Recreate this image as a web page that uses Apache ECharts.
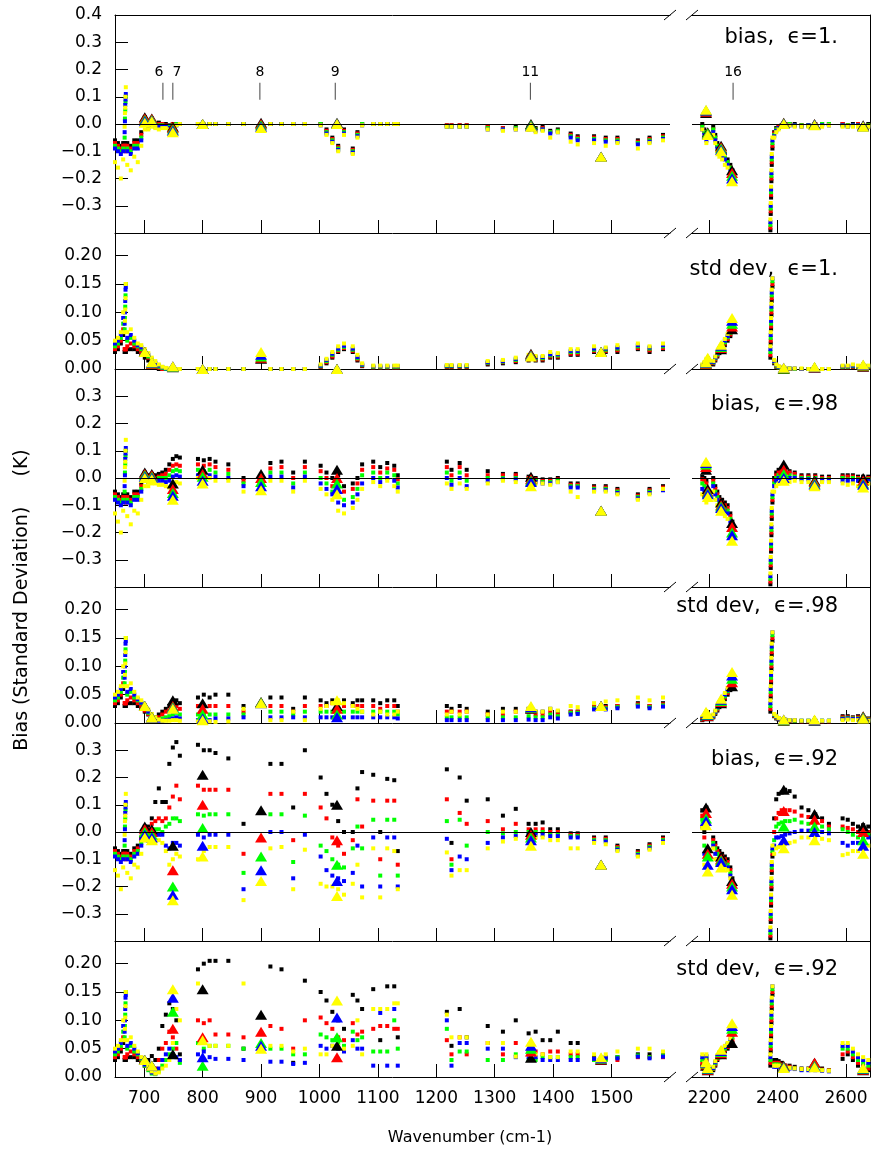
<!DOCTYPE html>
<html>
<head>
<meta charset="utf-8">
<script src="https://cdn.jsdelivr.net/npm/echarts@6/dist/echarts.min.js"></script>
<style>
  html, body { margin: 0; padding: 0; background: #fff; }
  #chart { width: 875px; height: 1154px; }
</style>
</head>
<body>
<div id="chart"></div>
<script>
// wavenumbers (cm-1) of the plotted channels: CO2 band / window + O3 / 4um band
const wavenumber = [
  650, 655, 660, 664, 666.5, 667, 667.5, 668, 668.5, 671, 677, 683, 689, 695, 701, 707, 713, 719, 725, 731, 737, 743, 749, 755, 761,
  792, 802, 812, 822, 844, 870, 916, 935, 955, 975, 1002, 1012, 1022, 1032, 1042, 1057, 1065, 1073, 1092, 1104, 1116, 1128, 1134, 1218, 1226, 1240, 1252, 1288, 1314, 1336, 1358, 1370, 1382, 1395, 1408, 1430, 1442, 1470, 1490, 1510, 1545, 1565, 1588,
  2180, 2186, 2192, 2212, 2218, 2224, 2230, 2238, 2246, 2254, 2262, 2268, 2379, 2380, 2381, 2382, 2383, 2385, 2390, 2396, 2403, 2412, 2422, 2435, 2450, 2470, 2490, 2510, 2530, 2550, 2590, 2605, 2620, 2635, 2650, 2665
];

// ---- bias, eps = 1.
const bias100Black = [
  -0.06, -0.07, -0.08, -0.07, -0.07, -0.07, -0.08, -0.08, -0.09, -0.07, -0.08, -0.06, -0.06, -0.03, 0.025, 0.01, 0.02, 0, 0.005, 0, 0, -0.005, 0, 0, 0,
  0, 0, 0, 0, 0, 0, 0, 0, 0, 0, 0, -0.02, -0.05, -0.08, -0.02, -0.09, -0.03, 0, 0, 0, 0, 0, 0, -0.005, -0.005, -0.005, -0.005, -0.01, -0.015, -0.01, -0.01, -0.015, -0.01, -0.025, -0.02, -0.035, -0.045, -0.045, -0.05, -0.05, -0.06, -0.05, -0.04,
  0, -0.02, -0.03, -0.01, -0.04, -0.07, -0.09, -0.1, -0.11, -0.13, -0.15, -0.17, -0.39, -0.33, -0.27, -0.21, -0.15, -0.09, -0.03, -0.015, -0.01, -0.005, 0, 0, 0, -0.005, -0.005, 0, 0, 0, 0, -0.005, 0, 0, -0.005, 0
];
const bias100Red = [
  -0.07, -0.08, -0.09, -0.08, -0.08, -0.08, -0.09, -0.09, -0.1, -0.08, -0.09, -0.07, -0.07, -0.04, 0.015, 0, 0.015, 0, 0, 0, -0.005, -0.01, 0, 0, 0,
  0, 0, 0, 0, 0, 0, 0, 0, 0, 0, 0, -0.025, -0.055, -0.085, -0.025, -0.095, -0.035, 0, 0, 0, 0, 0, 0, -0.005, -0.005, -0.005, -0.005, -0.01, -0.015, -0.015, -0.015, -0.02, -0.015, -0.03, -0.025, -0.04, -0.05, -0.05, -0.055, -0.055, -0.065, -0.055, -0.045,
  -0.01, -0.03, -0.04, -0.02, -0.05, -0.08, -0.1, -0.11, -0.12, -0.14, -0.16, -0.18, -0.38, -0.32, -0.26, -0.2, -0.14, -0.08, -0.035, -0.02, -0.01, -0.005, 0, 0, -0.005, -0.005, -0.005, 0, 0, 0, 0, -0.005, -0.005, 0, -0.005, -0.005
];
const bias100Green = [
  -0.08, -0.09, -0.1, -0.09, -0.05, 0.02, 0.05, 0.08, 0.1, -0.09, -0.1, -0.08, -0.08, -0.05, 0.005, -0.01, 0.01, -0.005, -0.005, -0.005, -0.01, -0.01, -0.005, 0, 0,
  0, 0, 0, 0, 0, 0, 0, 0, 0, 0, 0, -0.03, -0.06, -0.09, -0.03, -0.1, -0.04, 0, 0, 0, 0, 0, 0, -0.01, -0.01, -0.01, -0.01, -0.015, -0.02, -0.015, -0.015, -0.02, -0.02, -0.03, -0.025, -0.045, -0.055, -0.055, -0.06, -0.06, -0.07, -0.06, -0.05,
  -0.01, -0.03, -0.05, -0.02, -0.05, -0.08, -0.1, -0.11, -0.12, -0.14, -0.16, -0.19, -0.37, -0.31, -0.25, -0.19, -0.13, -0.07, -0.04, -0.02, -0.015, -0.01, -0.005, 0, -0.005, -0.005, -0.005, -0.005, 0, 0, -0.005, -0.005, -0.005, -0.005, -0.01, -0.005
];
const bias100Blue = [
  -0.09, -0.1, -0.11, -0.1, -0.03, 0.01, 0.07, 0.09, 0.11, -0.1, -0.11, -0.09, -0.09, -0.06, 0, -0.015, 0, -0.01, -0.01, -0.01, -0.01, -0.015, -0.01, -0.005, 0,
  0, 0, 0, 0, 0, 0, 0, 0, 0, 0, -0.005, -0.035, -0.065, -0.095, -0.035, -0.105, -0.045, -0.005, 0, 0, 0, 0, 0, -0.01, -0.01, -0.01, -0.01, -0.02, -0.02, -0.02, -0.02, -0.025, -0.02, -0.035, -0.03, -0.05, -0.06, -0.06, -0.065, -0.065, -0.075, -0.065, -0.055,
  -0.02, -0.04, -0.06, -0.03, -0.06, -0.09, -0.11, -0.12, -0.13, -0.15, -0.17, -0.2, -0.36, -0.3, -0.24, -0.18, -0.12, -0.06, -0.045, -0.025, -0.015, -0.01, -0.005, -0.005, -0.005, -0.01, -0.005, -0.005, -0.005, -0.005, -0.005, -0.01, -0.005, -0.005, -0.01, -0.01
];
const bias100Yellow = [
  -0.14, -0.16, -0.2, -0.13, -0.01, 0.04, 0.06, 0.1, 0.135, -0.15, -0.17, -0.12, -0.14, -0.08, -0.02, -0.02, -0.01, -0.015, -0.02, -0.015, -0.015, -0.02, -0.01, -0.005, 0,
  0, 0, 0, 0, 0, 0, 0, 0, 0, 0, -0.005, -0.04, -0.07, -0.1, -0.04, -0.11, -0.05, -0.005, 0, 0, 0, 0, 0, -0.01, -0.01, -0.01, -0.01, -0.02, -0.025, -0.02, -0.02, -0.03, -0.025, -0.05, -0.03, -0.065, -0.075, -0.07, -0.08, -0.07, -0.09, -0.07, -0.06,
  -0.02, -0.05, -0.07, -0.04, -0.07, -0.1, -0.12, -0.13, -0.15, -0.16, -0.18, -0.21, -0.35, -0.29, -0.23, -0.17, -0.11, -0.05, -0.05, -0.03, -0.02, -0.01, -0.005, -0.005, -0.01, -0.01, -0.01, -0.005, -0.01, -0.005, -0.01, -0.01, -0.01, -0.01, -0.015, -0.01
];

// ---- std dev, eps = 1.
const std100Black = [
  0.03, 0.035, 0.045, 0.06, 0.03, 0.03, 0.03, 0.03, 0.03, 0.035, 0.035, 0.035, 0.03, 0.025, 0.02, 0.015, 0.01, 0.005, 0, 0, 0, 0, 0, 0, 0,
  0, 0, 0, 0, 0, 0, 0, 0, 0, 0, 0.003, 0.01, 0.02, 0.03, 0.035, 0.03, 0.015, 0.005, 0.002, 0.002, 0.002, 0.002, 0.002, 0.003, 0.003, 0.003, 0.003, 0.008, 0.01, 0.012, 0.015, 0.015, 0.015, 0.02, 0.02, 0.025, 0.025, 0.03, 0.03, 0.03, 0.035, 0.03, 0.035,
  0.003, 0.006, 0.01, 0.008, 0.015, 0.022, 0.028, 0.034, 0.042, 0.05, 0.058, 0.066, 0.02, 0.045, 0.07, 0.095, 0.12, 0.145, 0.01, 0.004, 0.002, 0.001, 0, 0, 0, 0, 0, 0, 0, 0, 0.002, 0.002, 0.003, 0.002, 0.003, 0.002
];
const std100Red = [
  0.035, 0.04, 0.05, 0.07, 0.035, 0.035, 0.035, 0.035, 0.035, 0.04, 0.045, 0.04, 0.035, 0.03, 0.025, 0.02, 0.012, 0.007, 0.002, 0, 0, 0, 0, 0, 0,
  0, 0, 0, 0, 0, 0, 0, 0, 0, 0, 0.004, 0.012, 0.022, 0.032, 0.037, 0.032, 0.017, 0.006, 0.003, 0.003, 0.003, 0.003, 0.003, 0.004, 0.004, 0.004, 0.004, 0.01, 0.012, 0.014, 0.017, 0.017, 0.017, 0.022, 0.022, 0.027, 0.027, 0.032, 0.032, 0.033, 0.037, 0.033, 0.037,
  0.004, 0.008, 0.012, 0.01, 0.017, 0.024, 0.03, 0.036, 0.045, 0.053, 0.061, 0.07, 0.025, 0.05, 0.075, 0.1, 0.125, 0.15, 0.012, 0.005, 0.003, 0.002, 0.001, 0, 0, 0, 0, 0, 0, 0, 0.003, 0.003, 0.004, 0.003, 0.004, 0.003
];
const std100Green = [
  0.04, 0.045, 0.055, 0.08, 0.07, 0.09, 0.11, 0.13, 0.15, 0.05, 0.055, 0.045, 0.04, 0.035, 0.028, 0.022, 0.015, 0.009, 0.004, 0.002, 0, 0, 0, 0, 0,
  0, 0, 0, 0, 0, 0, 0, 0, 0, 0, 0.005, 0.014, 0.025, 0.034, 0.039, 0.034, 0.019, 0.007, 0.004, 0.004, 0.004, 0.004, 0.004, 0.005, 0.005, 0.005, 0.005, 0.011, 0.013, 0.016, 0.019, 0.019, 0.019, 0.024, 0.024, 0.03, 0.03, 0.034, 0.034, 0.036, 0.04, 0.036, 0.04,
  0.005, 0.009, 0.014, 0.011, 0.019, 0.026, 0.032, 0.039, 0.047, 0.056, 0.064, 0.074, 0.03, 0.055, 0.08, 0.105, 0.13, 0.155, 0.013, 0.006, 0.003, 0.002, 0.001, 0.001, 0, 0, 0, 0, 0, 0, 0.004, 0.004, 0.005, 0.004, 0.005, 0.004
];
const std100Blue = [
  0.045, 0.05, 0.06, 0.09, 0.08, 0.1, 0.12, 0.14, 0.145, 0.055, 0.06, 0.05, 0.042, 0.038, 0.03, 0.025, 0.017, 0.011, 0.006, 0.003, 0.001, 0, 0, 0, 0,
  0, 0, 0, 0, 0, 0, 0, 0, 0, 0, 0.006, 0.016, 0.027, 0.036, 0.041, 0.036, 0.021, 0.008, 0.005, 0.005, 0.005, 0.005, 0.005, 0.006, 0.006, 0.006, 0.006, 0.012, 0.014, 0.018, 0.021, 0.021, 0.021, 0.026, 0.026, 0.032, 0.032, 0.036, 0.036, 0.038, 0.042, 0.038, 0.042,
  0.006, 0.01, 0.015, 0.012, 0.02, 0.028, 0.034, 0.041, 0.05, 0.058, 0.067, 0.078, 0.035, 0.06, 0.085, 0.11, 0.135, 0.16, 0.014, 0.007, 0.004, 0.002, 0.001, 0.001, 0.001, 0, 0, 0, 0, 0, 0.005, 0.005, 0.006, 0.005, 0.006, 0.005
];
const std100Yellow = [
  0.05, 0.055, 0.065, 0.1, 0.065, 0.085, 0.105, 0.125, 0.15, 0.065, 0.07, 0.055, 0.045, 0.042, 0.035, 0.028, 0.02, 0.014, 0.008, 0.004, 0.002, 0.001, 0, 0, 0,
  0, 0, 0, 0, 0, 0, 0, 0, 0, 0, 0.008, 0.018, 0.03, 0.04, 0.045, 0.04, 0.025, 0.01, 0.006, 0.006, 0.006, 0.006, 0.006, 0.007, 0.007, 0.007, 0.007, 0.014, 0.016, 0.02, 0.025, 0.023, 0.023, 0.03, 0.028, 0.035, 0.035, 0.04, 0.038, 0.042, 0.045, 0.04, 0.045,
  0.008, 0.012, 0.018, 0.014, 0.022, 0.03, 0.037, 0.044, 0.053, 0.062, 0.071, 0.082, 0.04, 0.065, 0.09, 0.115, 0.14, 0.16, 0.016, 0.008, 0.005, 0.003, 0.002, 0.001, 0.001, 0.001, 0, 0, 0, 0, 0.006, 0.006, 0.008, 0.006, 0.008, 0.006
];

// ---- bias, eps = .98
const bias98Black = [
  -0.05, -0.06, -0.07, -0.06, -0.06, -0.06, -0.07, -0.07, -0.08, -0.06, -0.07, -0.05, -0.05, -0.02, 0.02, 0.01, 0.015, 0.01, 0.015, 0.02, 0.03, 0.05, 0.07, 0.08, 0.075,
  0.07, 0.065, 0.07, 0.06, 0.05, 0, 0.055, 0.06, 0.02, 0.06, 0.045, 0.02, 0, 0.01, -0.03, -0.02, 0, 0.05, 0.06, 0.04, 0.055, 0.045, 0.01, 0.06, 0.03, 0.055, 0.03, 0.025, 0.015, 0.015, 0.005, 0, -0.005, -0.005, 0, -0.02, -0.02, -0.03, -0.03, -0.04, -0.06, -0.04, -0.03,
  0.005, 0, -0.01, 0, -0.03, -0.05, -0.07, -0.08, -0.09, -0.1, -0.13, -0.16, -0.39, -0.33, -0.27, -0.21, -0.15, -0.09, 0, 0.02, 0.03, 0.035, 0.035, 0.025, 0.02, 0.01, 0.01, 0.01, 0.005, 0.005, 0.01, 0.01, 0.01, 0.005, 0.005, 0.005
];
const bias98Red = [
  -0.06, -0.07, -0.08, -0.07, -0.07, -0.07, -0.08, -0.08, -0.09, -0.07, -0.08, -0.06, -0.06, -0.03, 0.01, 0, 0.01, 0, 0.005, 0.01, 0.015, 0.03, 0.045, 0.05, 0.045,
  0.05, 0.045, 0.05, 0.04, 0.03, -0.01, 0.035, 0.04, 0, 0.04, 0.025, 0, -0.03, -0.04, -0.05, -0.04, -0.02, 0.03, 0.04, 0.02, 0.035, 0.03, -0.005, 0.04, 0.01, 0.04, 0.01, 0.01, 0.01, 0.01, 0, -0.005, -0.01, -0.01, -0.005, -0.025, -0.025, -0.035, -0.035, -0.045, -0.065, -0.045, -0.035,
  -0.005, -0.01, -0.02, -0.01, -0.04, -0.06, -0.08, -0.09, -0.1, -0.11, -0.14, -0.17, -0.38, -0.32, -0.26, -0.2, -0.14, -0.08, -0.01, 0.01, 0.02, 0.025, 0.025, 0.02, 0.015, 0.005, 0.005, 0.005, 0, 0, 0.005, 0.005, 0.005, 0, 0, 0
];
const bias98Green = [
  -0.07, -0.08, -0.09, -0.08, -0.05, 0.02, 0.05, 0.08, 0.1, -0.08, -0.09, -0.07, -0.07, -0.04, 0, -0.01, 0, -0.005, 0, 0, 0, 0.01, 0.025, 0.03, 0.025,
  0.03, 0.025, 0.03, 0.02, 0.015, -0.02, 0.02, 0.02, -0.02, 0.02, 0, -0.02, -0.05, -0.07, -0.08, -0.07, -0.04, 0.01, 0.02, 0, 0.02, 0.01, -0.02, 0.02, -0.01, 0.02, -0.01, 0, 0, 0, -0.005, -0.01, -0.015, -0.015, -0.01, -0.03, -0.03, -0.04, -0.04, -0.05, -0.07, -0.05, -0.04,
  -0.02, -0.03, -0.04, -0.02, -0.05, -0.07, -0.09, -0.1, -0.11, -0.12, -0.15, -0.18, -0.37, -0.31, -0.25, -0.19, -0.13, -0.07, -0.02, 0, 0.01, 0.015, 0.015, 0.01, 0.005, 0, 0, 0, -0.005, -0.005, 0, -0.005, 0, -0.005, -0.005, -0.005
];
const bias98Blue = [
  -0.08, -0.09, -0.1, -0.09, -0.03, 0.01, 0.07, 0.09, 0.11, -0.09, -0.1, -0.08, -0.08, -0.05, -0.01, -0.015, -0.01, -0.01, -0.01, -0.01, -0.015, -0.01, 0.005, 0.01, 0.005,
  0.01, 0.005, 0.01, 0.005, 0, -0.03, 0.005, 0.005, -0.035, 0.005, -0.02, -0.04, -0.06, -0.09, -0.1, -0.09, -0.06, -0.02, 0, -0.015, 0, -0.01, -0.035, 0, -0.025, 0, -0.03, -0.01, -0.005, -0.005, -0.01, -0.015, -0.02, -0.02, -0.015, -0.035, -0.035, -0.045, -0.045, -0.055, -0.075, -0.055, -0.045,
  -0.04, -0.05, -0.06, -0.03, -0.06, -0.08, -0.1, -0.11, -0.12, -0.13, -0.16, -0.19, -0.36, -0.3, -0.24, -0.18, -0.12, -0.06, -0.03, -0.01, 0, 0.005, 0.005, 0, 0, -0.005, -0.005, -0.005, -0.01, -0.01, -0.01, -0.01, -0.01, -0.01, -0.015, -0.01
];
const bias98Yellow = [
  -0.13, -0.16, -0.2, -0.12, -0.01, 0.04, 0.06, 0.1, 0.14, -0.14, -0.17, -0.12, -0.13, -0.08, -0.03, -0.03, -0.02, -0.02, -0.025, -0.025, -0.03, -0.035, -0.025, -0.015, -0.02,
  0, -0.01, 0, -0.01, -0.01, -0.05, -0.01, -0.01, -0.05, -0.01, -0.04, -0.06, -0.08, -0.12, -0.13, -0.11, -0.08, -0.04, -0.015, -0.03, -0.01, -0.03, -0.05, -0.02, -0.04, -0.02, -0.04, -0.02, -0.01, -0.015, -0.02, -0.02, -0.02, -0.025, -0.015, -0.05, -0.07, -0.05, -0.05, -0.06, -0.08, -0.06, -0.04,
  -0.06, -0.07, -0.09, -0.05, -0.08, -0.1, -0.12, -0.13, -0.14, -0.15, -0.18, -0.22, -0.35, -0.29, -0.23, -0.17, -0.11, -0.05, -0.05, -0.03, -0.02, -0.015, -0.015, -0.015, -0.01, -0.015, -0.015, -0.02, -0.015, -0.015, -0.02, -0.025, -0.02, -0.03, -0.03, -0.02
];

// ---- std dev, eps = .98
const std98Black = [
  0.03, 0.035, 0.045, 0.06, 0.03, 0.03, 0.03, 0.03, 0.03, 0.035, 0.035, 0.035, 0.03, 0.025, 0.02, 0.015, 0.01, 0.01, 0.015, 0.02, 0.025, 0.03, 0.035, 0.04, 0.035,
  0.045, 0.05, 0.045, 0.05, 0.05, 0.03, 0.045, 0.045, 0.025, 0.045, 0.04, 0.035, 0.04, 0.035, 0.04, 0.035, 0.04, 0.04, 0.04, 0.035, 0.04, 0.04, 0.03, 0.03, 0.025, 0.03, 0.025, 0.02, 0.025, 0.025, 0.025, 0.02, 0.02, 0.025, 0.02, 0.02, 0.02, 0.03, 0.03, 0.03, 0.035, 0.03, 0.035,
  0.005, 0.008, 0.012, 0.01, 0.016, 0.022, 0.028, 0.034, 0.042, 0.05, 0.058, 0.065, 0.02, 0.045, 0.07, 0.095, 0.12, 0.145, 0.012, 0.008, 0.006, 0.005, 0.004, 0.004, 0.003, 0.003, 0.003, 0.003, 0.003, 0.003, 0.012, 0.012, 0.01, 0.012, 0.01, 0.008
];
const std98Red = [
  0.035, 0.04, 0.05, 0.07, 0.035, 0.035, 0.035, 0.035, 0.035, 0.04, 0.045, 0.04, 0.035, 0.03, 0.022, 0.016, 0.01, 0.008, 0.01, 0.015, 0.02, 0.022, 0.025, 0.03, 0.025,
  0.03, 0.03, 0.03, 0.03, 0.03, 0.02, 0.03, 0.03, 0.02, 0.03, 0.03, 0.03, 0.035, 0.025, 0.03, 0.03, 0.03, 0.03, 0.03, 0.025, 0.03, 0.03, 0.02, 0.02, 0.02, 0.02, 0.02, 0.015, 0.015, 0.02, 0.02, 0.015, 0.015, 0.02, 0.015, 0.02, 0.02, 0.028, 0.028, 0.03, 0.033, 0.03, 0.033,
  0.006, 0.009, 0.014, 0.011, 0.018, 0.024, 0.03, 0.036, 0.045, 0.053, 0.061, 0.069, 0.025, 0.05, 0.075, 0.1, 0.125, 0.15, 0.013, 0.009, 0.007, 0.006, 0.005, 0.004, 0.004, 0.003, 0.003, 0.003, 0.003, 0.003, 0.01, 0.01, 0.009, 0.01, 0.009, 0.007
];
const std98Green = [
  0.04, 0.045, 0.055, 0.08, 0.07, 0.09, 0.11, 0.13, 0.15, 0.05, 0.055, 0.045, 0.04, 0.035, 0.025, 0.018, 0.012, 0.006, 0.006, 0.008, 0.01, 0.012, 0.015, 0.018, 0.015,
  0.015, 0.015, 0.015, 0.015, 0.015, 0.015, 0.02, 0.02, 0.015, 0.02, 0.02, 0.02, 0.02, 0.02, 0.02, 0.02, 0.02, 0.02, 0.02, 0.02, 0.02, 0.02, 0.015, 0.01, 0.01, 0.01, 0.01, 0.01, 0.01, 0.01, 0.012, 0.01, 0.01, 0.015, 0.012, 0.018, 0.018, 0.026, 0.026, 0.028, 0.031, 0.028, 0.031,
  0.007, 0.01, 0.015, 0.012, 0.019, 0.026, 0.032, 0.039, 0.047, 0.056, 0.064, 0.073, 0.03, 0.055, 0.08, 0.105, 0.13, 0.155, 0.014, 0.01, 0.008, 0.006, 0.005, 0.005, 0.004, 0.004, 0.004, 0.004, 0.004, 0.004, 0.008, 0.009, 0.008, 0.008, 0.008, 0.006
];
const std98Blue = [
  0.045, 0.05, 0.06, 0.09, 0.08, 0.1, 0.12, 0.14, 0.145, 0.055, 0.06, 0.05, 0.042, 0.036, 0.027, 0.02, 0.013, 0.006, 0.004, 0.004, 0.005, 0.006, 0.008, 0.01, 0.008,
  0.005, 0.008, 0.005, 0.008, 0.008, 0.01, 0.01, 0.01, 0.01, 0.01, 0.01, 0.01, 0.01, 0.01, 0.01, 0.01, 0.01, 0.01, 0.01, 0.01, 0.01, 0.01, 0.008, 0.005, 0.005, 0.005, 0.005, 0.005, 0.005, 0.005, 0.006, 0.005, 0.005, 0.01, 0.008, 0.015, 0.016, 0.024, 0.024, 0.026, 0.029, 0.026, 0.029,
  0.008, 0.011, 0.016, 0.013, 0.02, 0.028, 0.034, 0.041, 0.05, 0.058, 0.067, 0.076, 0.035, 0.06, 0.085, 0.11, 0.135, 0.16, 0.015, 0.011, 0.008, 0.007, 0.006, 0.005, 0.005, 0.004, 0.004, 0.004, 0.004, 0.004, 0.007, 0.008, 0.007, 0.007, 0.007, 0.005
];
const std98Yellow = [
  0.05, 0.055, 0.065, 0.1, 0.065, 0.085, 0.105, 0.125, 0.15, 0.065, 0.07, 0.055, 0.045, 0.04, 0.032, 0.024, 0.016, 0.01, 0.006, 0.004, 0.004, 0.004, 0.005, 0.005, 0.004,
  0.003, 0.002, 0.003, 0.002, 0.003, 0.025, 0.005, 0.005, 0.02, 0.005, 0.025, 0.03, 0.035, 0.04, 0.035, 0.03, 0.025, 0.02, 0.015, 0.02, 0.015, 0.015, 0.02, 0.015, 0.02, 0.015, 0.02, 0.015, 0.02, 0.02, 0.025, 0.02, 0.02, 0.025, 0.022, 0.03, 0.028, 0.035, 0.038, 0.04, 0.045, 0.04, 0.045,
  0.01, 0.014, 0.02, 0.015, 0.022, 0.03, 0.037, 0.044, 0.053, 0.062, 0.071, 0.08, 0.04, 0.065, 0.09, 0.115, 0.14, 0.16, 0.016, 0.012, 0.009, 0.007, 0.006, 0.005, 0.005, 0.004, 0.004, 0.004, 0.004, 0.004, 0.005, 0.006, 0.005, 0.005, 0.005, 0.004
];

// ---- bias, eps = .92
const bias92Black = [
  -0.06, -0.07, -0.08, -0.07, -0.07, -0.07, -0.08, -0.08, -0.09, -0.07, -0.08, -0.06, -0.05, -0.02, 0.02, 0.02, 0.05, 0.11, 0.16, 0.11, 0.11, 0.25, 0.31, 0.33, 0.28,
  0.32, 0.3, 0.3, 0.29, 0.27, 0.03, 0.25, 0.25, 0.09, 0.3, 0.2, 0.14, 0.1, 0.04, 0, 0, 0.16, 0.22, 0.21, 0, 0.195, 0.19, -0.07, 0.23, -0.04, 0.2, 0.115, 0.12, 0.06, 0.085, 0.03, 0.03, 0.035, 0.01, 0.01, -0.005, -0.005, -0.02, -0.02, -0.05, -0.07, -0.045, -0.02,
  0.08, 0, 0.09, -0.02, -0.04, -0.06, -0.07, -0.08, -0.09, -0.1, -0.13, -0.17, -0.39, -0.33, -0.27, -0.21, -0.15, -0.09, 0.05, 0.12, 0.14, 0.145, 0.155, 0.15, 0.13, 0.09, 0.08, 0.065, 0.05, 0.03, 0.05, 0.045, 0.03, 0.02, 0.025, 0.02
];
const bias92Red = [
  -0.07, -0.08, -0.09, -0.08, -0.08, -0.08, -0.09, -0.09, -0.1, -0.08, -0.09, -0.07, -0.06, -0.03, 0.01, 0.01, 0.03, 0.04, 0.05, 0.04, 0.05, 0.09, 0.13, 0.17, 0.12,
  0.17, 0.155, 0.155, 0.155, 0.155, -0.08, 0.14, 0.14, -0.03, 0.14, 0.09, 0.05, -0.02, -0.05, -0.08, -0.03, 0.12, 0.02, 0.115, -0.1, 0.115, 0.115, -0.12, 0.12, -0.1, 0.07, 0.03, 0.04, 0.01, 0.03, 0.01, 0.01, 0.01, 0, 0, -0.01, -0.01, -0.025, -0.025, -0.055, -0.075, -0.05, -0.025,
  0.06, -0.02, 0.07, -0.03, -0.05, -0.07, -0.08, -0.09, -0.1, -0.11, -0.14, -0.18, -0.38, -0.32, -0.26, -0.2, -0.14, -0.08, 0, 0.05, 0.07, 0.08, 0.08, 0.08, 0.075, 0.06, 0.055, 0.05, 0.04, 0.02, 0.02, 0.015, 0.01, 0, 0, 0
];
const bias92Green = [
  -0.08, -0.09, -0.1, -0.09, -0.05, 0.02, 0.05, 0.08, 0.1, -0.09, -0.1, -0.08, -0.07, -0.04, 0, 0, 0, 0.01, 0.01, 0, 0.02, 0.03, 0.05, 0.05, 0.04,
  0.065, 0.06, 0.065, 0.065, 0.065, -0.15, 0.065, 0.065, -0.11, 0.06, -0.05, -0.07, -0.1, -0.12, -0.13, -0.06, 0.02, -0.06, 0.045, -0.16, 0.045, 0.045, -0.16, 0.04, -0.12, 0.045, -0.05, 0, -0.005, 0, 0, 0, 0, -0.01, -0.01, -0.015, -0.015, -0.03, -0.03, -0.06, -0.08, -0.055, -0.03,
  0.045, -0.05, 0.05, -0.04, -0.06, -0.08, -0.09, -0.1, -0.11, -0.12, -0.15, -0.19, -0.37, -0.31, -0.25, -0.19, -0.13, -0.07, -0.03, 0.02, 0.03, 0.035, 0.04, 0.04, 0.045, 0.035, 0.03, 0.03, 0.02, 0.01, 0.01, 0, -0.01, -0.02, -0.015, -0.01
];
const bias92Blue = [
  -0.09, -0.1, -0.11, -0.1, -0.03, 0.01, 0.07, 0.09, 0.11, -0.1, -0.11, -0.09, -0.08, -0.05, -0.01, -0.01, -0.01, -0.01, -0.01, -0.01, -0.05, -0.06, -0.04, -0.04, -0.05,
  -0.01, -0.02, -0.01, -0.01, -0.01, -0.21, 0, 0, -0.17, -0.01, -0.09, -0.14, -0.16, -0.17, -0.18, -0.15, -0.05, -0.2, -0.02, -0.2, -0.02, -0.02, -0.2, -0.025, -0.14, -0.09, -0.1, -0.04, -0.02, -0.015, -0.01, -0.01, -0.01, -0.015, -0.015, -0.02, -0.02, -0.035, -0.035, -0.065, -0.085, -0.06, -0.035,
  0.02, -0.08, 0.03, -0.05, -0.08, -0.1, -0.1, -0.11, -0.12, -0.13, -0.16, -0.2, -0.36, -0.3, -0.24, -0.18, -0.12, -0.06, -0.05, -0.02, -0.02, -0.015, -0.01, -0.005, 0, 0.005, 0.005, 0.005, 0, -0.005, -0.04, -0.05, -0.04, -0.04, -0.03, -0.02
];
const bias92Yellow = [
  -0.14, -0.16, -0.21, -0.13, -0.01, 0.04, 0.06, 0.1, 0.14, -0.15, -0.17, -0.12, -0.13, -0.08, -0.03, -0.03, -0.03, -0.04, -0.03, -0.04, -0.07, -0.12, -0.1, -0.08, -0.09,
  -0.1, -0.07, -0.055, -0.055, -0.055, -0.25, -0.06, -0.055, -0.21, -0.065, -0.19, -0.2, -0.2, -0.21, -0.23, -0.19, -0.12, -0.24, -0.06, -0.24, -0.06, -0.07, -0.21, -0.075, -0.16, -0.14, -0.14, -0.06, -0.035, -0.025, -0.02, -0.02, -0.02, -0.03, -0.03, -0.06, -0.06, -0.04, -0.045, -0.07, -0.09, -0.065, -0.04,
  0.015, -0.12, 0.02, -0.06, -0.1, -0.12, -0.12, -0.13, -0.13, -0.14, -0.17, -0.22, -0.35, -0.29, -0.23, -0.17, -0.11, -0.05, -0.08, -0.06, -0.055, -0.05, -0.045, -0.04, -0.035, -0.02, -0.02, -0.02, -0.025, -0.03, -0.085, -0.08, -0.07, -0.07, -0.06, -0.05
];

// ---- std dev, eps = .92
const std92Black = [
  0.03, 0.035, 0.045, 0.06, 0.03, 0.03, 0.03, 0.03, 0.03, 0.035, 0.035, 0.035, 0.03, 0.025, 0.02, 0.03, 0.037, 0.03, 0.05, 0.09, 0.11, 0.13, 0.12, 0.1, 0.04,
  0.19, 0.2, 0.205, 0.205, 0.205, 0.05, 0.195, 0.19, 0.025, 0.17, 0.15, 0.135, 0.115, 0.1, 0.085, 0.145, 0.135, 0.12, 0.155, 0.065, 0.16, 0.16, 0.07, 0.115, 0.055, 0.12, 0.07, 0.09, 0.08, 0.1, 0.077, 0.08, 0.065, 0.065, 0.08, 0.06, 0.06, 0.035, 0.035, 0.035, 0.04, 0.04, 0.042,
  0.02, 0.015, 0.03, 0.012, 0.02, 0.03, 0.035, 0.04, 0.045, 0.05, 0.055, 0.06, 0.02, 0.045, 0.07, 0.095, 0.12, 0.145, 0.03, 0.03, 0.028, 0.025, 0.02, 0.02, 0.018, 0.015, 0.015, 0.02, 0.015, 0.012, 0.032, 0.04, 0.03, 0.02, 0.015, 0.012
];
const std92Red = [
  0.035, 0.04, 0.05, 0.07, 0.035, 0.035, 0.035, 0.035, 0.035, 0.04, 0.045, 0.04, 0.035, 0.03, 0.02, 0.015, 0.01, 0.015, 0.03, 0.05, 0.06, 0.08, 0.07, 0.05, 0.03,
  0.1, 0.095, 0.1, 0.075, 0.075, 0.07, 0.09, 0.085, 0.05, 0.1, 0.105, 0.095, 0.085, 0.07, 0.065, 0.095, 0.075, 0.08, 0.085, 0.09, 0.09, 0.085, 0.085, 0.065, 0.04, 0.07, 0.04, 0.06, 0.04, 0.06, 0.045, 0.045, 0.04, 0.045, 0.045, 0.04, 0.04, 0.03, 0.032, 0.03, 0.035, 0.035, 0.035,
  0.025, 0.018, 0.032, 0.014, 0.022, 0.032, 0.037, 0.042, 0.048, 0.053, 0.06, 0.065, 0.025, 0.05, 0.075, 0.1, 0.125, 0.15, 0.025, 0.025, 0.025, 0.022, 0.02, 0.018, 0.016, 0.014, 0.014, 0.015, 0.013, 0.012, 0.04, 0.045, 0.035, 0.025, 0.02, 0.015
];
const std92Green = [
  0.04, 0.045, 0.055, 0.08, 0.07, 0.09, 0.11, 0.13, 0.15, 0.05, 0.055, 0.045, 0.04, 0.032, 0.02, 0.012, 0.006, 0.005, 0.01, 0.02, 0.03, 0.04, 0.05, 0.06, 0.025,
  0.06, 0.05, 0.055, 0.055, 0.055, 0.05, 0.05, 0.05, 0.04, 0.04, 0.075, 0.07, 0.065, 0.06, 0.055, 0.08, 0.065, 0.07, 0.045, 0.045, 0.045, 0.1, 0.05, 0.085, 0.03, 0.045, 0.045, 0.03, 0.03, 0.04, 0.03, 0.03, 0.035, 0.035, 0.035, 0.035, 0.035, 0.03, 0.03, 0.035, 0.038, 0.035, 0.038,
  0.03, 0.02, 0.035, 0.015, 0.024, 0.034, 0.04, 0.045, 0.05, 0.056, 0.063, 0.07, 0.03, 0.055, 0.08, 0.105, 0.13, 0.155, 0.022, 0.022, 0.022, 0.02, 0.018, 0.016, 0.015, 0.013, 0.013, 0.013, 0.012, 0.011, 0.05, 0.05, 0.04, 0.03, 0.025, 0.02
];
const std92Blue = [
  0.045, 0.05, 0.06, 0.09, 0.08, 0.1, 0.12, 0.14, 0.145, 0.055, 0.06, 0.05, 0.042, 0.034, 0.022, 0.014, 0.008, 0.006, 0.015, 0.03, 0.04, 0.05, 0.04, 0.035, 0.03,
  0.04, 0.045, 0.035, 0.032, 0.032, 0.03, 0.027, 0.027, 0.023, 0.025, 0.055, 0.05, 0.055, 0.05, 0.045, 0.065, 0.05, 0.05, 0.02, 0.113, 0.02, 0.12, 0.02, 0.1, 0.02, 0.06, 0.06, 0.05, 0.05, 0.035, 0.035, 0.035, 0.03, 0.03, 0.03, 0.03, 0.03, 0.032, 0.034, 0.033, 0.036, 0.033, 0.036,
  0.035, 0.022, 0.037, 0.016, 0.026, 0.036, 0.042, 0.047, 0.053, 0.058, 0.066, 0.075, 0.035, 0.06, 0.085, 0.11, 0.135, 0.16, 0.018, 0.018, 0.018, 0.017, 0.016, 0.015, 0.014, 0.012, 0.012, 0.012, 0.011, 0.01, 0.055, 0.055, 0.045, 0.035, 0.03, 0.025
];
const std92Yellow = [
  0.05, 0.055, 0.065, 0.1, 0.065, 0.085, 0.105, 0.125, 0.15, 0.065, 0.07, 0.055, 0.045, 0.035, 0.025, 0.018, 0.01, 0.006, 0.008, 0.015, 0.02, 0.03, 0.06, 0.12, 0.1,
  0.165, 0.06, 0.055, 0.055, 0.055, 0.165, 0.055, 0.055, 0.045, 0.05, 0.04, 0.04, 0.055, 0.055, 0.05, 0.055, 0.1, 0.04, 0.12, 0.12, 0.12, 0.13, 0.13, 0.11, 0.07, 0.07, 0.07, 0.06, 0.06, 0.036, 0.04, 0.04, 0.04, 0.035, 0.035, 0.045, 0.045, 0.04, 0.04, 0.045, 0.05, 0.05, 0.045,
  0.04, 0.025, 0.04, 0.018, 0.028, 0.038, 0.044, 0.05, 0.055, 0.06, 0.068, 0.08, 0.04, 0.065, 0.09, 0.115, 0.14, 0.16, 0.02, 0.02, 0.02, 0.018, 0.017, 0.016, 0.015, 0.014, 0.014, 0.013, 0.012, 0.011, 0.06, 0.06, 0.05, 0.04, 0.035, 0.03
];

// triangles: broad-band (HIRS-like) channel values
const triWavenumber = [701, 713, 749, 800, 900, 1030, 1362, 1482, 2191, 2196, 2235, 2267, 2418, 2508, 2650];
const triBias100Black = [0.025, 0.02, -0.01, 0, 0.005, 0.005, 0, -0.12, 0.04, -0.03, -0.08, -0.17, 0.005, 0, -0.005];
const triBias100Red = [0.02, 0.018, -0.015, 0, 0, 0, -0.005, -0.12, 0.045, -0.035, -0.085, -0.18, 0.003, -0.002, -0.007];
const triBias100Green = [0.015, 0.015, -0.02, 0, -0.005, 0, -0.005, -0.12, 0.05, -0.035, -0.09, -0.19, 0.002, -0.003, -0.008];
const triBias100Blue = [0.01, 0.012, -0.025, 0, -0.01, 0, -0.008, -0.12, 0.05, -0.04, -0.095, -0.2, 0.001, -0.004, -0.009];
const triBias100Yellow = [0.005, 0.01, -0.03, 0, -0.015, 0, -0.01, -0.12, 0.052, -0.04, -0.1, -0.21, 0, -0.005, -0.01];

const triStd100Black = [0.03, 0.008, 0.003, 0, 0.018, 0, 0.027, 0.03, 0.008, 0.015, 0.035, 0.07, 0, 0.002, 0.004];
const triStd100Red = [0.03, 0.009, 0.004, 0, 0.02, 0, 0.025, 0.03, 0.009, 0.016, 0.037, 0.075, 0.001, 0.002, 0.005];
const triStd100Green = [0.03, 0.01, 0.004, 0, 0.022, 0, 0.024, 0.03, 0.01, 0.017, 0.039, 0.08, 0.001, 0.003, 0.006];
const triStd100Blue = [0.03, 0.011, 0.005, 0, 0.025, 0, 0.023, 0.03, 0.011, 0.018, 0.041, 0.085, 0.002, 0.003, 0.007];
const triStd100Yellow = [0.03, 0.012, 0.005, 0, 0.03, 0, 0.022, 0.03, 0.012, 0.02, 0.043, 0.09, 0.002, 0.004, 0.008];

const triBias98Black = [0.02, 0.015, -0.02, 0.03, 0.015, 0.03, 0.005, -0.12, 0.03, -0.04, -0.09, -0.165, 0.05, -0.01, 0];
const triBias98Red = [0.015, 0.01, -0.04, 0.015, 0, 0, -0.005, -0.12, 0.04, -0.05, -0.1, -0.18, 0.03, -0.015, -0.01];
const triBias98Green = [0.01, 0.005, -0.055, 0.005, -0.015, -0.02, -0.01, -0.12, 0.05, -0.055, -0.105, -0.2, 0.015, -0.02, -0.02];
const triBias98Blue = [0.005, 0, -0.065, -0.01, -0.03, -0.04, -0.015, -0.12, 0.055, -0.06, -0.11, -0.21, 0, -0.025, -0.025];
const triBias98Yellow = [0, -0.005, -0.08, -0.02, -0.045, -0.06, -0.03, -0.12, 0.06, -0.07, -0.12, -0.23, -0.01, -0.03, -0.035];

const triStd98Black = [0.03, 0.01, 0.04, 0.035, 0.037, 0.03, 0.025, 0.03, 0.015, 0.012, 0.035, 0.065, 0.004, 0.004, 0.012];
const triStd98Red = [0.03, 0.01, 0.03, 0.025, 0.036, 0.025, 0.026, 0.03, 0.016, 0.013, 0.037, 0.072, 0.005, 0.005, 0.011];
const triStd98Green = [0.03, 0.01, 0.028, 0.015, 0.036, 0.015, 0.027, 0.03, 0.017, 0.014, 0.039, 0.078, 0.005, 0.005, 0.01];
const triStd98Blue = [0.03, 0.01, 0.026, 0.008, 0.035, 0.01, 0.028, 0.03, 0.018, 0.015, 0.041, 0.084, 0.006, 0.005, 0.009];
const triStd98Yellow = [0.03, 0.01, 0.025, 0.005, 0.035, 0.04, 0.03, 0.03, 0.02, 0.016, 0.043, 0.09, 0.006, 0.006, 0.008];

const triBias92Black = [0.02, 0.01, -0.05, 0.21, 0.08, 0.1, 0, -0.12, 0.09, -0.06, -0.09, -0.18, 0.155, 0.066, 0.02];
const triBias92Red = [0.01, 0, -0.14, 0.1, -0.02, -0.03, -0.01, -0.12, 0.07, -0.08, -0.1, -0.19, 0.077, 0.045, 0];
const triBias92Green = [0, -0.01, -0.2, 0.015, -0.09, -0.12, -0.02, -0.12, 0.05, -0.09, -0.105, -0.2, 0.02, 0.02, -0.03];
const triBias92Blue = [-0.01, -0.02, -0.23, -0.05, -0.14, -0.18, -0.03, -0.12, 0.04, -0.12, -0.11, -0.21, -0.03, 0, -0.05];
const triBias92Yellow = [-0.02, -0.03, -0.25, -0.09, -0.18, -0.235, -0.05, -0.12, 0.025, -0.145, -0.13, -0.23, -0.06, -0.03, -0.08];

const triStd92Black = [0.03, 0.02, 0.04, 0.155, 0.11, 0.055, 0.034, 0.03, 0.02, 0.012, 0.04, 0.06, 0.02, 0.025, 0.012];
const triStd92Red = [0.03, 0.02, 0.085, 0.07, 0.08, 0.035, 0.045, 0.031, 0.022, 0.013, 0.042, 0.08, 0.019, 0.025, 0.013];
const triStd92Green = [0.03, 0.02, 0.115, 0.02, 0.06, 0.07, 0.05, 0.032, 0.024, 0.014, 0.044, 0.085, 0.018, 0.02, 0.014];
const triStd92Blue = [0.03, 0.02, 0.14, 0.035, 0.055, 0.105, 0.055, 0.033, 0.025, 0.015, 0.046, 0.09, 0.017, 0.018, 0.015];
const triStd92Yellow = [0.03, 0.02, 0.155, 0.065, 0.05, 0.135, 0.062, 0.035, 0.026, 0.016, 0.048, 0.095, 0.016, 0.017, 0.016];

// channel numbers marked in the top panel
const channelNames = ['6', '7', '8', '9', '11', '16'];
const channelWavenumber = [732, 749, 898, 1027, 1361, 2270];

// axis ticks
const xTicksLeft = [700, 800, 900, 1000, 1100, 1200, 1300, 1400, 1500];
const xTicksRight = [2200, 2400, 2600];
const biasTicks = [-0.3, -0.2, -0.1, 0, 0.1, 0.2, 0.3];
const biasLabelsTop = [-0.3, -0.2, -0.1, 0, 0.1, 0.2, 0.3, 0.4];
const stdTicks = [0.05, 0.1, 0.15, 0.2];
const stdLabels = [0, 0.05, 0.1, 0.15, 0.2];

const COLORS = ['#000000', '#ff0000', '#00ff00', '#0000ff', '#ffff00'];
const FONT = 'DejaVu Sans';

const panels = [
  { kind: 'bias', title: 'bias,  \u03f5=1.', titleDy: 23,
    dots: [bias100Black, bias100Red, bias100Green, bias100Blue, bias100Yellow],
    tris: [triBias100Black, triBias100Red, triBias100Green, triBias100Blue, triBias100Yellow] },
  { kind: 'std', title: 'std dev,  \u03f5=1.', titleDy: 37,
    dots: [std100Black, std100Red, std100Green, std100Blue, std100Yellow],
    tris: [triStd100Black, triStd100Red, triStd100Green, triStd100Blue, triStd100Yellow] },
  { kind: 'bias', title: 'bias,  \u03f5=.98', titleDy: 36,
    dots: [bias98Black, bias98Red, bias98Green, bias98Blue, bias98Yellow],
    tris: [triBias98Black, triBias98Red, triBias98Green, triBias98Blue, triBias98Yellow] },
  { kind: 'std', title: 'std dev,  \u03f5=.98', titleDy: 20,
    dots: [std98Black, std98Red, std98Green, std98Blue, std98Yellow],
    tris: [triStd98Black, triStd98Red, triStd98Green, triStd98Blue, triStd98Yellow] },
  { kind: 'bias', title: 'bias,  \u03f5=.92', titleDy: 37,
    dots: [bias92Black, bias92Red, bias92Green, bias92Blue, bias92Yellow],
    tris: [triBias92Black, triBias92Red, triBias92Green, triBias92Blue, triBias92Yellow] },
  { kind: 'std', title: 'std dev,  \u03f5=.92', titleDy: 29,
    dots: [std92Black, std92Red, std92Green, std92Blue, std92Yellow],
    tris: [triStd92Black, triStd92Red, triStd92Green, triStd92Blue, triStd92Yellow] }
];

// layout
const GRID_TOP = [15, 233, 369, 587, 723, 941];
const GRID_HEIGHT = [218, 136, 218, 136, 218, 136];
const SEGMENTS = [
  { left: 115, width: 555, min: 650, max: 1600, ticks: xTicksLeft, test: (x) => x < 2000 },
  { left: 692, width: 178, min: 2150, max: 2670, ticks: xTicksRight, test: (x) => x > 2000 }
];

const fmtBias = (v) => v.toFixed(1).replace('-', '\u2212');
const fmtStd = (v) => v.toFixed(2);

const grids = [];
const xAxes = [];
const yAxes = [];
const series = [];
const graphics = [];
const badArrays = [];

panels.forEach((p, pi) => {
  p.dots.forEach((a, k) => { if (a.length !== wavenumber.length) badArrays.push('p' + pi + 'd' + k + ':' + a.length); });
  p.tris.forEach((a, k) => { if (a.length !== triWavenumber.length) badArrays.push('p' + pi + 't' + k + ':' + a.length); });
  const isBias = p.kind === 'bias';
  SEGMENTS.forEach((seg, si) => {
    const gi = pi * 2 + si;
    grids.push({ left: seg.left, top: GRID_TOP[pi], width: seg.width, height: GRID_HEIGHT[pi] });
    xAxes.push({
      gridIndex: gi, type: 'value', min: seg.min, max: seg.max,
      axisLine: { show: true, onZero: false, lineStyle: { color: '#000', width: 1 } },
      axisTick: { show: true, inside: true, length: 13, customValues: seg.ticks, lineStyle: { color: '#000' } },
      axisLabel: {
        show: pi === 5, customValues: seg.ticks, formatter: (v) => String(v),
        margin: 13, fontSize: 17, color: '#000', fontFamily: FONT
      },
      splitLine: { show: false }
    });
    const yBase = {
      gridIndex: gi, type: 'value',
      min: isBias ? -0.4 : 0, max: isBias ? 0.4 : 0.24,
      splitLine: { show: false },
      axisLine: { show: true, onZero: false, lineStyle: { color: '#000', width: 1 } }
    };
    if (si === 0) {
      yAxes.push(Object.assign(yBase, {
        position: 'left',
        axisTick: { show: true, inside: true, length: 13, customValues: isBias ? biasTicks : stdTicks, lineStyle: { color: '#000' } },
        axisLabel: {
          customValues: isBias ? (pi === 0 ? biasLabelsTop : biasTicks) : stdLabels,
          formatter: isBias ? fmtBias : fmtStd,
          margin: 13, fontSize: 17, color: '#000', fontFamily: FONT
        }
      }));
    } else {
      yAxes.push(Object.assign(yBase, {
        position: 'right', axisTick: { show: false }, axisLabel: { show: false }
      }));
    }

    p.dots.forEach((vals, ci) => {
      const data = [];
      wavenumber.forEach((x, j) => { if (seg.test(x)) data.push([x, vals[j]]); });
      const s = {
        type: 'scatter', xAxisIndex: gi, yAxisIndex: gi, data,
        symbol: 'rect', symbolSize: 4, itemStyle: { color: COLORS[ci], opacity: 1 },
        silent: true, animation: false, z: 3
      };
      if (ci === 0 && isBias) {
        s.markLine = {
          silent: true, symbol: 'none', animation: false,
          label: { show: false },
          lineStyle: { color: '#000', width: 1, type: 'solid' },
          data: [{ yAxis: 0 }]
        };
      }
      series.push(s);
    });
    p.tris.forEach((vals, ci) => {
      const data = [];
      triWavenumber.forEach((x, j) => { if (seg.test(x)) data.push([x, vals[j]]); });
      series.push({
        type: 'scatter', xAxisIndex: gi, yAxisIndex: gi, data,
        symbol: 'triangle', symbolSize: [12, 10], itemStyle: { color: COLORS[ci], opacity: 1 },
        silent: true, animation: false, z: 4
      });
    });
  });

  graphics.push({
    type: 'text', x: 838, y: GRID_TOP[pi] + p.titleDy,
    style: { text: p.title, fill: '#000', font: '21px "' + FONT + '"', textAlign: 'right', textVerticalAlign: 'middle' }
  });
});

// top frame line of the first panel
[0, 1].forEach((gi) => {
  xAxes.push({
    gridIndex: gi, type: 'value', position: 'top', min: SEGMENTS[gi].min, max: SEGMENTS[gi].max,
    axisLine: { show: true, onZero: false, lineStyle: { color: '#000', width: 1 } },
    axisTick: { show: false }, axisLabel: { show: false }, splitLine: { show: false }
  });
});

// channel number markers (top panel); 6 and 7 sit close, so nudge their labels apart
const labelNudge = { '6': -4, '7': 4 };
[0, 1].forEach((si) => {
  const data = [];
  channelWavenumber.forEach((x, j) => {
    if (SEGMENTS[si].test(x)) {
      const name = channelNames[j];
      data.push({ value: [x, 0.12], name, label: { offset: [labelNudge[name] || 0, 0] } });
    }
  });
  series.push({
    type: 'scatter', xAxisIndex: si, yAxisIndex: si, data,
    symbol: 'rect', symbolSize: [1, 17], itemStyle: { color: '#444', opacity: 1 },
    label: { show: true, position: 'top', distance: 3, formatter: '{b}', fontSize: 14, color: '#000', fontFamily: FONT },
    silent: true, animation: false, z: 2
  });
});

// axis break marks
const breakRows = GRID_TOP.concat([GRID_TOP[5] + GRID_HEIGHT[5]]);
breakRows.forEach((y) => {
  [SEGMENTS[0].left + SEGMENTS[0].width, SEGMENTS[1].left].forEach((x) => {
    graphics.push({
      type: 'line', shape: { x1: x - 6, y1: y + 5, x2: x + 6, y2: y - 5 },
      style: { stroke: '#000', lineWidth: 1 }
    });
  });
});

graphics.push({
  type: 'text', x: 470, y: 1138,
  style: { text: 'Wavenumber (cm-1)', fill: '#000', font: '16px "' + FONT + '"', textAlign: 'center', textVerticalAlign: 'middle' }
});
graphics.push({
  type: 'text', x: 22, y: 600, rotation: Math.PI / 2,
  style: { text: 'Bias (Standard Deviation)     (K)', fill: '#000', font: '19px "' + FONT + '"', textAlign: 'center', textVerticalAlign: 'middle' }
});
if (badArrays.length) {
  graphics.push({ type: 'text', x: 200, y: 5, style: { text: 'LEN ' + badArrays.join(' '), fill: '#f0f', font: '12px sans-serif' } });
}

const chart = echarts.init(document.getElementById('chart'), null, { renderer: 'canvas' });
chart.setOption({
  backgroundColor: '#fff',
  animation: false,
  grid: grids,
  xAxis: xAxes,
  yAxis: yAxes,
  series,
  graphic: graphics
});
</script>
</body>
</html>
